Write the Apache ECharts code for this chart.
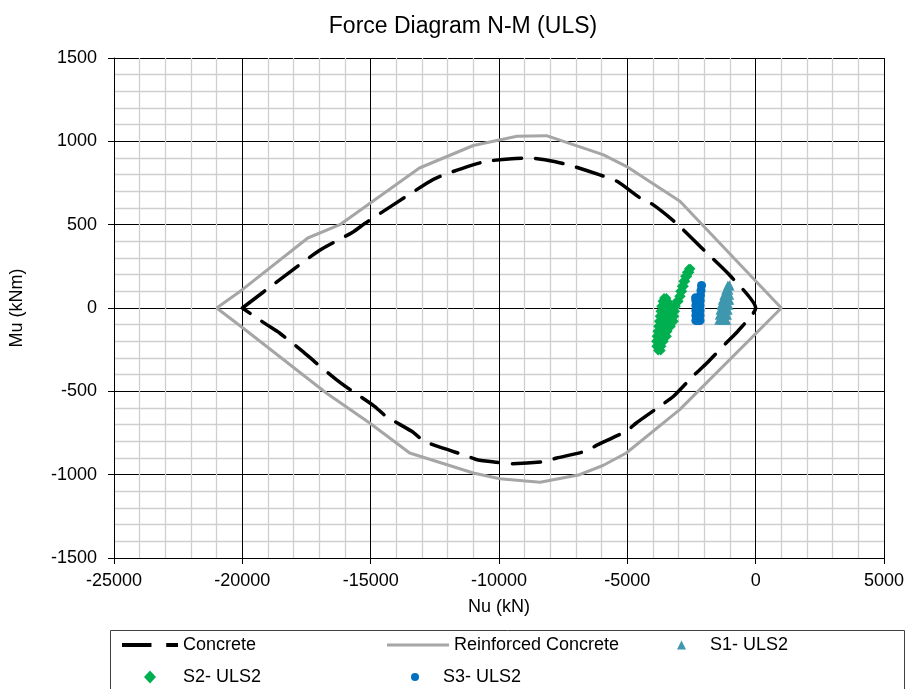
<!DOCTYPE html>
<html>
<head>
<meta charset="utf-8">
<script src="https://cdn.jsdelivr.net/npm/echarts@6/dist/echarts.min.js"></script>
<style>html,body{margin:0;padding:0;background:#fff}#c{width:909px;height:689px}</style>
</head>
<body>
<div id="c"></div>
<script>
// ---- Data ----
var xTicks = [-25000, -20000, -15000, -10000, -5000, 0, 5000];
var yTicks = [-1500, -1000, -500, 0, 500, 1000, 1500];

// Concrete interaction curve [Nu, Mu]
var concrete = [
  [-20000,0],[-18500,175],[-17000,345],[-15700,455],[-15200,510],[-12800,750],[-12300,790],
  [-11200,850],[-10500,880],[-9500,896],[-8800,900],[-7800,878],[-7100,850],[-6100,800],
  [-5400,760],[-4500,660],[-4000,620],[-3100,510],[-2000,345],[-1000,195],[0,0],
  [-700,-140],[-1150,-210],[-1900,-330],[-2450,-410],[-3200,-530],[-3700,-586],[-4650,-690],
  [-5050,-740],[-6150,-820],[-6650,-860],[-7750,-900],[-8350,-924],[-9500,-934],[-10100,-925],
  [-10850,-910],[-11300,-885],[-11800,-860],[-12900,-800],[-13400,-740],[-14400,-650],
  [-14850,-590],[-15800,-490],[-16300,-434],[-17200,-320],[-17650,-260],[-18550,-150],
  [-19050,-100],[-20000,0]
];

// Reinforced concrete interaction curve [Nu, Mu]
var reinforced = [
  [-21000,0],[-20000,110],[-17450,420],[-16200,500],[-13100,840],[-11000,975],[-9300,1030],
  [-8150,1034],[-5950,920],[-5040,850],[-2950,640],[1000,0],
  [-2960,-610],[-5040,-870],[-5950,-945],[-6860,-1000],[-8400,-1046],[-9970,-1025],
  [-11000,-990],[-13480,-870],[-15040,-690],[-16730,-510],[-19975,-120],[-21000,0]
];

// S1- ULS2 load points [Nu, Mu]
var s1 = [
  [-1420,-70],[-1320,-70],[-1220,-70],[-1150,-70],
  [-1400,-40],[-1300,-40],[-1200,-40],[-1120,-40],
  [-1370,-10],[-1270,-10],[-1170,-10],[-1090,-10],
  [-1330,20],[-1230,20],[-1130,20],[-1060,20],
  [-1280,50],[-1180,50],[-1080,50],[-1030,50],
  [-1220,80],[-1120,80],[-1030,80],
  [-1150,110],[-1060,110],[-1080,135],[-1020,135]
];

// S2- ULS2 load points [Nu, Mu]
var s2 = [
  [-3800,-255],[-3700,-255],
  [-3870,-230],[-3770,-230],[-3670,-230],
  [-3880,-200],[-3780,-200],[-3680,-200],[-3580,-200],
  [-3860,-170],[-3760,-170],[-3660,-170],[-3560,-170],[-3460,-170],
  [-3830,-140],[-3730,-140],[-3630,-140],[-3530,-140],[-3430,-140],
  [-3800,-110],[-3700,-110],[-3600,-110],[-3500,-110],[-3400,-110],[-3300,-110],
  [-3770,-80],[-3670,-80],[-3570,-80],[-3470,-80],[-3370,-80],[-3270,-80],[-3190,-80],
  [-3740,-50],[-3640,-50],[-3540,-50],[-3440,-50],[-3340,-50],[-3240,-50],[-3170,-50],
  [-3710,-20],[-3610,-20],[-3510,-20],[-3410,-20],[-3310,-20],[-3210,-20],[-3140,-20],
  [-3680,10],[-3580,10],[-3480,10],[-3380,10],[-3280,10],[-3180,10],[-3110,10],
  [-3630,40],[-3530,40],[-3430,40],[-3080,40],[-3000,40],
  [-3570,60],[-3480,60],
  [-2980,70],[-2920,70],[-2940,100],[-2860,100],[-2880,130],[-2800,130],
  [-2820,160],[-2740,160],[-2750,190],[-2660,190],[-2680,215],[-2580,215],
  [-2600,235],[-2540,235]
];

// S3- ULS2 load points [Nu, Mu]
var s3 = [
  [-2330,-75],[-2250,-75],[-2170,-75],
  [-2330,-45],[-2250,-45],[-2170,-45],
  [-2330,-15],[-2250,-15],[-2170,-15],
  [-2330,15],[-2250,15],[-2170,15],
  [-2330,45],[-2250,40],[-2160,45],
  [-2340,62],[-2150,75],[-2130,105],[-2110,135]
];

var FONT = 'Liberation Sans, Arial, sans-serif';
var chart = echarts.init(document.getElementById('c'));

function legendAt(name, icon, left, top, w, h, pad) {
  return {
    data: [{ name: name, icon: icon }], left: left, top: top, orient: 'horizontal', padding: 0,
    itemWidth: w, itemHeight: h, itemGap: 0, selectedMode: false,
    itemStyle: { borderWidth: 0 },
    lineStyle: { width: 0 },
    textStyle: { fontFamily: FONT, fontSize: 18, color: '#000', lineHeight: 18, padding: [0,0,0,pad] }
  };
}

function plain(v) { return String(v); }

var option = {
  animation: false,
  backgroundColor: '#fff',
  title: {
    text: 'Force Diagram N-M (ULS)', left: 458, top: 10, textAlign: 'center',
    textStyle: { fontFamily: FONT, fontSize: 23, fontWeight: 'normal', color: '#000' }
  },
  grid: { left: 114, right: 25, top: 58, bottom: 131, containLabel: false },
  xAxis: {
    type: 'value', min: xTicks[0], max: xTicks[xTicks.length-1], interval: 5000,
    name: 'Nu (kN)', nameLocation: 'middle', nameGap: 40,
    nameTextStyle: { fontFamily: FONT, fontSize: 18, color: '#000' },
    axisLine: { show: true, onZero: false, lineStyle: { color: '#000', width: 1 } },
    axisTick: { show: true, length: 6, inside: false, lineStyle: { color: '#000' } },
    axisLabel: { fontFamily: FONT, fontSize: 18, color: '#000', margin: 14, formatter: plain },
    splitLine: { show: true, lineStyle: { color: '#000', width: 1 } },
    minorTick: { show: false, splitNumber: 5 },
    minorSplitLine: { show: true, lineStyle: { color: '#cfcfcf', width: 1.3 } }
  },
  yAxis: {
    type: 'value', min: yTicks[0], max: yTicks[yTicks.length-1], interval: 500,
    name: 'Mu (kNm)', nameLocation: 'middle', nameGap: 88, nameRotate: 90,
    nameTextStyle: { fontFamily: FONT, fontSize: 18, color: '#000' },
    axisLine: { show: true, onZero: false, lineStyle: { color: '#000', width: 1 } },
    axisTick: { show: true, length: 6, inside: false, lineStyle: { color: '#000' } },
    axisLabel: { fontFamily: FONT, fontSize: 18, color: '#000', margin: 17, formatter: plain },
    splitLine: { show: true, lineStyle: { color: '#000', width: 1 } },
    minorTick: { show: false, splitNumber: 5 },
    minorSplitLine: { show: true, lineStyle: { color: '#cfcfcf', width: 1.3 } }
  },
  legend: [
    legendAt('Concrete', 'path://M0,0H30V4H0Z M45,0H57V4H45Z', 122, 636, 56, 4, 0),
    legendAt('Reinforced Concrete', 'rect', 387, 636, 62, 3, 0),
    legendAt('S1- ULS2', 'triangle', 677, 636, 9, 9, 19),
    legendAt('S2- ULS2', 'diamond', 144, 668, 12, 13, 22),
    legendAt('S3- ULS2', 'circle', 411, 668, 8, 8, 19)
  ],
  graphic: [{
    type: 'rect', shape: { x: 110.5, y: 630.5, width: 794, height: 70 },
    style: { fill: 'none', stroke: '#404040', lineWidth: 1 }, silent: true
  }],
  series: [
    {
      name: 'Concrete', type: 'line', data: concrete, showSymbol: false, symbol: 'none',
      smooth: 0.2, z: 3,
      lineStyle: { color: '#000', width: 3.5, type: [28, 14], cap: 'round' },
      itemStyle: { color: '#000' }
    },
    {
      name: 'Reinforced Concrete', type: 'line', data: reinforced, showSymbol: false, symbol: 'none',
      smooth: false, z: 2,
      lineStyle: { color: '#a6a6a6', width: 3 },
      itemStyle: { color: '#a6a6a6' }
    },
    {
      name: 'S1- ULS2', type: 'scatter', data: s1, symbol: 'triangle', symbolSize: 10, z: 5,
      itemStyle: { color: '#3f97ae', opacity: 1 }
    },
    {
      name: 'S2- ULS2', type: 'scatter', data: s2, symbol: 'diamond', symbolSize: 10, z: 5,
      itemStyle: { color: '#00b050', opacity: 1 }
    },
    {
      name: 'S3- ULS2', type: 'scatter', data: s3, symbol: 'circle', symbolSize: 9, z: 5,
      itemStyle: { color: '#0070c0', opacity: 1 }
    }
  ]
};
chart.setOption(option);
</script>
</body>
</html>
